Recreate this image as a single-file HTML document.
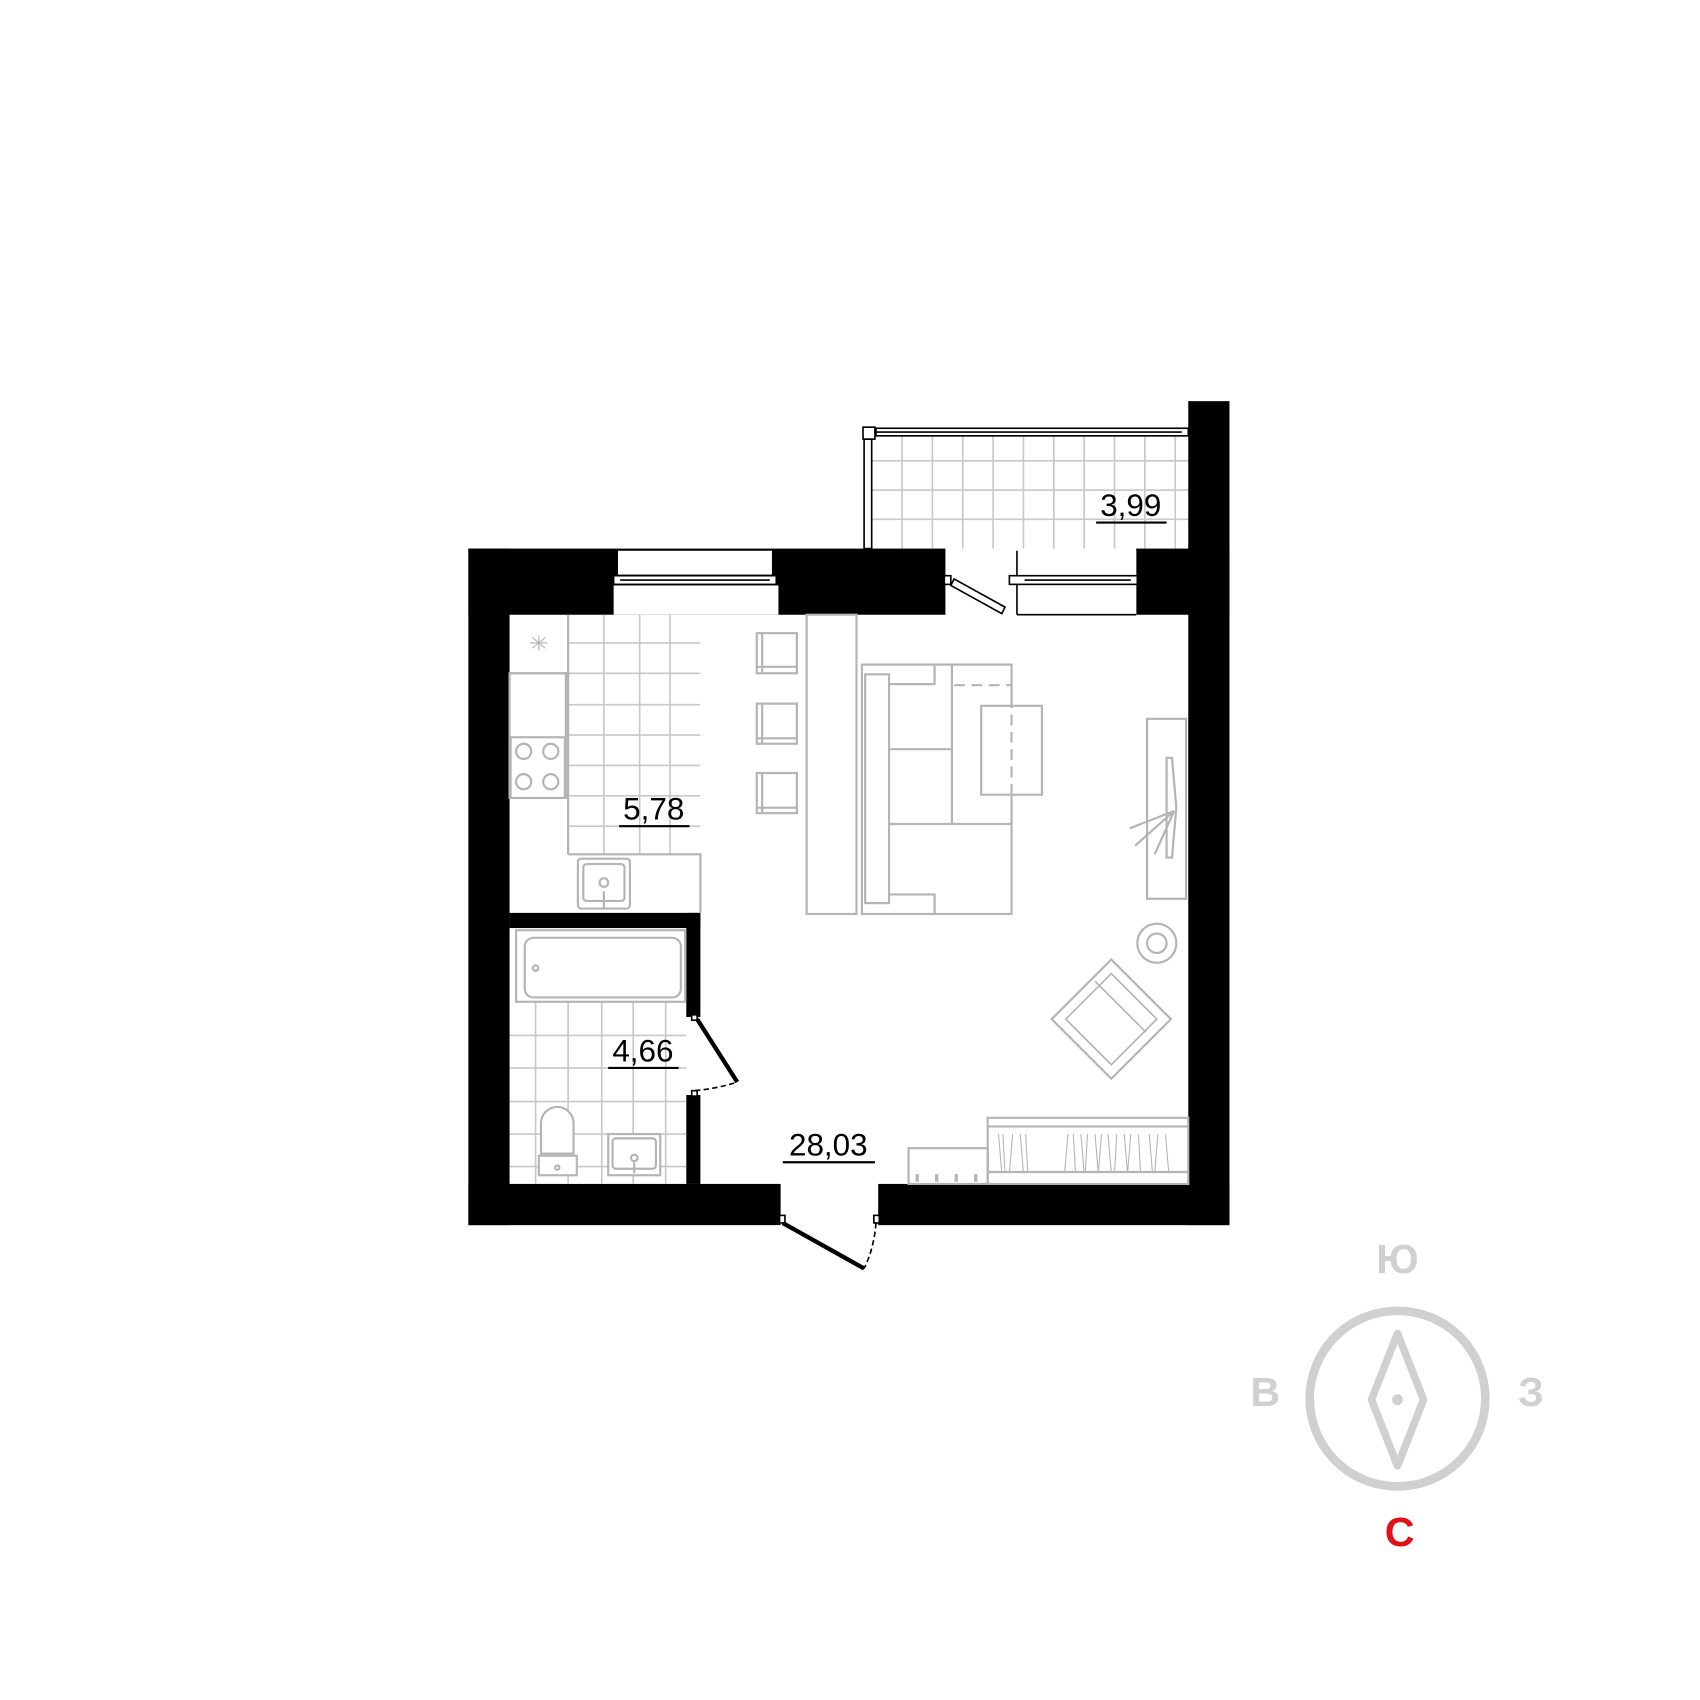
<!DOCTYPE html>
<html><head><meta charset="utf-8"><style>html,body{margin:0;padding:0;background:#fff}svg{display:block}</style></head>
<body>
<svg width="1700" height="1700" viewBox="0 0 1568 1568" xmlns="http://www.w3.org/2000/svg">
<rect width="1568" height="1568" fill="#fff"/>
<!-- balcony tiles -->
<g stroke="#c8c8c8" stroke-width="1.5" fill="none">
<path d="M832 402V506M860 402V506M888 402V506M916 402V506M944 402V506M972 402V506M1000 402V506M1028 402V506M1056 402V506M1084 402V506"/>
<path d="M804 425H1096M804 452H1096M804 479H1096"/>
</g>
<!-- balcony railing -->
<g stroke="#000" stroke-width="1.5" fill="#fff">
<rect x="808" y="395" width="288" height="7"/>
<line x1="808" y1="398.5" x2="1090" y2="398.5"/>
<rect x="797" y="405" width="7" height="101"/>
<rect x="796" y="394" width="11" height="11"/>
</g>
<!-- walls -->
<g fill="#000">
<rect x="432" y="506" width="38" height="624"/>
<rect x="432" y="506" width="440" height="61"/>
<rect x="1048" y="506" width="86" height="61"/>
<rect x="1096" y="370" width="38" height="760"/>
<rect x="432" y="1092" width="288" height="38"/>
<rect x="810" y="1092" width="324" height="38"/>
<rect x="470" y="842" width="176" height="14"/>
<rect x="633" y="842" width="13" height="96"/>
<rect x="633" y="1010" width="13" height="82"/>
</g>
<!-- windows -->
<g stroke="#000" stroke-width="1.5" fill="#fff">
<rect x="570" y="508" width="142" height="22" stroke="none"/>
<rect x="566" y="540" width="152" height="27" stroke="none"/>
<rect x="566" y="531" width="150" height="8"/>
<line x1="572" y1="535" x2="710" y2="535"/>
<rect x="938" y="508" width="110" height="59" stroke="none"/>
<line x1="938" y1="508" x2="938" y2="567"/>
<line x1="938" y1="567" x2="1048" y2="567"/>
<rect x="931" y="531" width="118" height="8"/>
<line x1="945" y1="535" x2="1043" y2="535"/>
<rect x="871" y="531" width="6" height="8"/>
<polygon points="880,534 927,560 924,566 877,540"/>
</g>
<!-- kitchen tiles -->
<g stroke="#c8c8c8" stroke-width="1.5" fill="none">
<path d="M557 567V788M590 567V788M618 567V788M524 567V788"/>
<path d="M524 593H646M524 621H646M524 650H646M524 678H646M524 706H646M524 734H646M524 762H646"/>
</g>
<g stroke="#b4b4b4" stroke-width="2" fill="#fff">
<rect x="470" y="621" width="52" height="115" fill="none"/>
<line x1="470" y1="621" x2="526" y2="621"/>
<rect x="471" y="680" width="50" height="56"/>
<circle cx="483" cy="693" r="7"/><circle cx="508" cy="693" r="7"/>
<circle cx="483" cy="721" r="7"/><circle cx="508" cy="721" r="7"/>
<line x1="524" y1="567" x2="524" y2="788"/>
<polyline points="524,788 646,788 646,842" fill="none"/>
<rect x="533" y="792" width="48" height="46" rx="3"/>
<rect x="538" y="797" width="38" height="34" rx="3"/>
<circle cx="557" cy="814" r="4"/>
<line x1="557" y1="822" x2="557" y2="838"/>
<path d="M489 593h16M497 586v14M491 588l12 10M503 588l-12 10" stroke-width="1"/>
</g>
<!-- bathroom tiles -->
<g stroke="#c8c8c8" stroke-width="1.5" fill="none">
<path d="M494 924V1092M524 924V1092M555 924V1092M584 924V1092M614 924V1092"/>
<path d="M470 955H633M470 985H633M470 1016H633M470 1046H633M470 1076H633"/>
</g>
<g stroke="#b4b4b4" stroke-width="2" fill="#fff">
<rect x="476" y="858" width="156" height="66"/>
<rect x="484" y="865" width="144" height="55" rx="8"/>
<circle cx="494" cy="893" r="2.5"/>
<path d="M499 1064V1036a15 15 0 0 1 30 0V1064Z"/>
<rect x="497" y="1066" width="35" height="18"/>
<circle cx="514" cy="1077" r="2"/>
<rect x="561" y="1046" width="48" height="38"/>
<rect x="565" y="1050" width="40" height="28" rx="3"/>
<circle cx="585" cy="1068" r="3"/>
<line x1="585" y1="1072" x2="585" y2="1082"/>
</g>
<!-- bathroom door -->
<g stroke="#000" fill="none">
<line x1="643" y1="940" x2="680" y2="998" stroke-width="4"/>
<path d="M641 1006 Q662 1004 680 998" stroke-width="1.5" stroke-dasharray="5,3"/>
<rect x="638" y="936" width="5" height="5" fill="#fff" stroke-width="1.5"/>
<rect x="638" y="1006" width="5" height="5" fill="#fff" stroke-width="1.5"/>
</g>
<!-- entrance door -->
<g stroke="#000" fill="none">
<line x1="722" y1="1128" x2="797" y2="1170" stroke-width="4"/>
<path d="M808 1128 Q806 1152 797 1170" stroke-width="1.5" stroke-dasharray="5,3"/>
<rect x="719" y="1121" width="5" height="7" fill="#fff" stroke-width="1.5"/>
<rect x="806" y="1121" width="5" height="7" fill="#fff" stroke-width="1.5"/>
</g>
<!-- living furniture -->
<g stroke="#b4b4b4" stroke-width="2" fill="none">
<rect x="698" y="584" width="37" height="37"/><line x1="703" y1="584" x2="703" y2="621"/><line x1="698" y1="615" x2="735" y2="615"/>
<rect x="698" y="649" width="37" height="37"/><line x1="703" y1="649" x2="703" y2="686"/><line x1="698" y1="681" x2="735" y2="681"/>
<rect x="698" y="713" width="37" height="37"/><line x1="703" y1="713" x2="703" y2="750"/><line x1="698" y1="745" x2="735" y2="745"/>
<rect x="744" y="567" width="46" height="276"/>
<rect x="795" y="613" width="138" height="230"/>
<rect x="798" y="622" width="22" height="211"/>
<polyline points="820,631 862,631 862,613"/>
<polyline points="820,825 862,825 862,843"/>
<line x1="878" y1="613" x2="878" y2="760"/>
<line x1="820" y1="691" x2="878" y2="691"/>
<line x1="820" y1="760" x2="933" y2="760"/>
<rect x="905" y="651" width="56" height="82" fill="#fff"/>
<path d="M880 632H933V760" stroke-dasharray="10,6"/>
<rect x="1058" y="663" width="36" height="166"/>
<polygon points="1076,699 1081,699 1085,745 1081,791 1076,791"/>
<path d="M1083 748L1042 764M1083 748L1047 780M1083 748L1065 788"/>
<circle cx="1067" cy="870" r="18"/><circle cx="1067" cy="870" r="9"/>
<polygon points="1025,885 1080,940 1025,995 970,940"/>
<polygon points="1025,898 1067,940 1025,982 983,940" stroke-width="1.5"/>
<line x1="1010" y1="905" x2="1057" y2="952" stroke-width="1.5"/>
<line x1="983" y1="940" x2="1010" y2="905" stroke-width="0"/>
<rect x="911" y="1031" width="185" height="61"/>
<line x1="911" y1="1039" x2="1096" y2="1039"/>
<line x1="911" y1="1081" x2="1096" y2="1081"/>
<rect x="838" y="1059" width="73" height="33"/>
<path d="M846 1083v7M864 1083v7M882 1083v7M900 1083v7" stroke-width="3"/>
<path d="M921 1046l3 36M925 1046l2 36M934 1046l-3 36M941 1046l3 36M946 1046l2 36M985 1046l-3 36M990 1046l2 36M997 1046l3 36M1003 1046l-2 36M1010 1046l3 36M1016 1046l-3 36M1022 1046l3 36M1030 1046l-2 36M1037 1046l3 36M1043 1046l-3 36M1050 1046l2 36M1060 1046l3 36M1068 1046l-3 36M1075 1046l3 36" stroke-width="1"/>
</g>
<!-- labels -->
<g font-family="Liberation Sans, sans-serif" font-size="29" fill="#000" text-anchor="middle">
<text x="1043" y="476">3,99</text><line x1="1011" y1="482" x2="1076" y2="482" stroke="#000" stroke-width="2"/>
<text x="603" y="756">5,78</text><line x1="571" y1="762" x2="636" y2="762" stroke="#000" stroke-width="2"/>
<text x="593" y="979">4,66</text><line x1="561" y1="985" x2="626" y2="985" stroke="#000" stroke-width="2"/>
<text x="764" y="1066">28,03</text><line x1="722" y1="1072" x2="807" y2="1072" stroke="#000" stroke-width="2"/>
</g>
<!-- compass -->
<circle cx="1289" cy="1290" r="81" fill="none" stroke="#d0d0d0" stroke-width="8"/>
<polygon points="1289,1230 1313,1291 1289,1352 1265,1291" fill="none" stroke="#d0d0d0" stroke-width="7" stroke-linejoin="round"/>
<circle cx="1289" cy="1291" r="5" fill="#d0d0d0"/>
<g font-family="Liberation Sans, sans-serif" font-size="38" font-weight="bold" text-anchor="middle" fill="#d0d0d0">
<text x="1289" y="1174">Ю</text>
<text x="1167" y="1297">В</text>
<text x="1412" y="1297">З</text>
<text x="1291" y="1426" fill="#e3101a">С</text>
</g>
</svg>
</body></html>
